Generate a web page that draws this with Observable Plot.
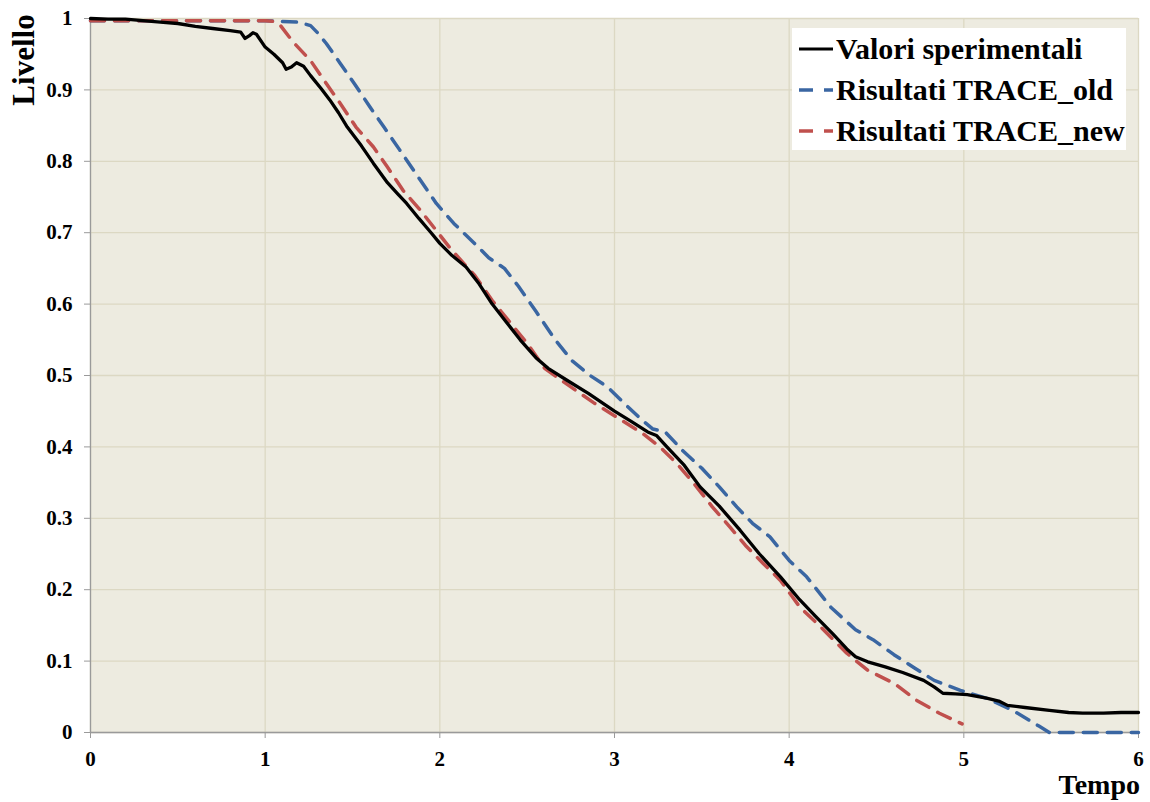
<!DOCTYPE html>
<html>
<head>
<meta charset="utf-8">
<script src="https://cdn.jsdelivr.net/npm/d3@7"></script>
<script src="https://cdn.jsdelivr.net/npm/@observablehq/plot@0.6"></script>
<style>
  html, body { margin: 0; padding: 0; background: #fff; }
  #wrap { position: relative; width: 1150px; height: 802px; font-family: "Liberation Serif", "Times New Roman", serif; font-weight: bold; color: #000; }
  #legend { position: absolute; left: 792px; top: 28px; width: 334px; height: 122px; background: #fff; }
  .row { height: 41px; line-height: 41px; font-size: 30px; white-space: nowrap; display: flex; align-items: center; padding-left: 6px; }
  .row svg { margin-right: 2px; flex: none; }
  #ylab { position: absolute; left: 23px; top: 60px; font-size: 31px; transform: translate(-50%, -50%) rotate(-90deg); white-space: nowrap; line-height: 1; }
  #xlab { position: absolute; right: 10px; top: 772px; font-size: 28px; line-height: 0.9; white-space: nowrap; }
</style>
</head>
<body>
<div id="wrap"></div>
<script>
// Valori sperimentali
const expX = [0, 0.1, 0.2, 0.3, 0.4, 0.5, 0.6, 0.7, 0.8, 0.86, 0.885, 0.91, 0.93, 0.95, 1.0, 1.05, 1.1, 1.12, 1.15, 1.18, 1.22, 1.26, 1.32, 1.37, 1.42, 1.47, 1.55, 1.62, 1.7, 1.76, 1.81, 1.88, 1.95, 2.0, 2.07, 2.15, 2.22, 2.3, 2.38, 2.46, 2.55, 2.62, 2.73, 2.85, 3.0, 3.1, 3.19, 3.24, 3.3, 3.4, 3.49, 3.6, 3.72, 3.83, 3.95, 4.06, 4.15, 4.25, 4.33, 4.38, 4.45, 4.55, 4.65, 4.77, 4.83, 4.88, 4.95, 5.02, 5.13, 5.2, 5.25, 5.35, 5.49, 5.6, 5.68, 5.8, 5.9, 6.0];
const expY = [1.0, 0.999, 0.999, 0.997, 0.995, 0.993, 0.989, 0.986, 0.983, 0.981, 0.972, 0.976, 0.98, 0.978, 0.96, 0.95, 0.938, 0.929, 0.932, 0.938, 0.933, 0.92, 0.902, 0.886, 0.868, 0.848, 0.822, 0.797, 0.77, 0.754, 0.741, 0.72, 0.7, 0.685, 0.668, 0.652, 0.63, 0.6, 0.575, 0.55, 0.525, 0.51, 0.493, 0.475, 0.45, 0.435, 0.421, 0.416, 0.4, 0.374, 0.344, 0.317, 0.283, 0.25, 0.218, 0.186, 0.163, 0.138, 0.117, 0.106, 0.099, 0.092, 0.084, 0.073, 0.064, 0.055, 0.054, 0.053, 0.048, 0.044, 0.038, 0.035, 0.031, 0.028, 0.027, 0.027, 0.028, 0.028];

// Risultati TRACE_old
const oldX = [0, 0.5, 1.0, 1.09, 1.18, 1.22, 1.26, 1.3, 1.35, 1.43, 1.51, 1.6, 1.68, 1.77, 1.89, 1.98, 2.08, 2.19, 2.28, 2.37, 2.45, 2.55, 2.66, 2.76, 2.86, 2.96, 3.06, 3.16, 3.22, 3.29, 3.39, 3.5, 3.6, 3.7, 3.79, 3.89, 4.0, 4.1, 4.24, 4.38, 4.48, 4.6, 4.72, 4.83, 4.98, 5.13, 5.28, 5.43, 5.49, 6.0];
const oldY = [0.997, 0.997, 0.997, 0.996, 0.995, 0.993, 0.99, 0.98, 0.965, 0.937, 0.909, 0.876, 0.848, 0.816, 0.773, 0.741, 0.713, 0.687, 0.665, 0.65, 0.625, 0.59, 0.55, 0.52, 0.5, 0.484, 0.46, 0.437, 0.425, 0.421, 0.395, 0.37, 0.344, 0.316, 0.293, 0.274, 0.241, 0.218, 0.175, 0.144, 0.13, 0.109, 0.09, 0.073, 0.059, 0.048, 0.031, 0.009, 0.0, 0.0];

// Risultati TRACE_new
const newX = [0, 0.5, 1.0, 1.05, 1.085, 1.16, 1.26, 1.35, 1.43, 1.52, 1.62, 1.7, 1.79, 1.89, 1.98, 2.06, 2.2, 2.3, 2.35, 2.5, 2.6, 2.75, 2.88, 3.01, 3.16, 3.26, 3.36, 3.47, 3.56, 3.66, 3.75, 3.85, 3.95, 4.06, 4.18, 4.33, 4.45, 4.6, 4.73, 4.86, 4.99];
const newY = [0.997, 0.997, 0.997, 0.996, 0.991, 0.967, 0.941, 0.909, 0.881, 0.848, 0.82, 0.792, 0.759, 0.731, 0.703, 0.678, 0.64, 0.605, 0.59, 0.545, 0.51, 0.484, 0.462, 0.442, 0.419, 0.4, 0.376, 0.344, 0.316, 0.288, 0.262, 0.237, 0.213, 0.176, 0.148, 0.111, 0.087, 0.069, 0.045, 0.027, 0.012];

const xTicks = [0, 1, 2, 3, 4, 5, 6];
const yTicks = [0, 0.1, 0.2, 0.3, 0.4, 0.5, 0.6, 0.7, 0.8, 0.9, 1];
const seriesNames = ["Valori sperimentali", "Risultati TRACE_old", "Risultati TRACE_new"];
const seriesColors = ["#000000", "#3A66A2", "#C0504D"];

const toRows = (xs, ys) => xs.map((x, i) => ({x, y: ys[i]}));
const expData = toRows(expX, expY);
const oldData = toRows(oldX, oldY);
const newData = toRows(newX, newY);

const fmtY = d => (d === 0 || d === 1) ? String(d) : d.toFixed(1);

const chart = Plot.plot({
  width: 1150,
  height: 802,
  marginLeft: 90,
  marginRight: 12,
  marginTop: 18,
  marginBottom: 70,
  style: {fontFamily: "'Liberation Serif', 'Times New Roman', serif", fontSize: "21px", fontWeight: "bold", color: "#000", background: "transparent", overflow: "visible"},
  x: {domain: [0, 6]},
  y: {domain: [0, 1]},
  marks: [
    Plot.frame({fill: "#EDEBE0", stroke: null}),
    Plot.gridY(yTicks, {stroke: "#DCD8C3", strokeOpacity: 1, strokeWidth: 1.3}),
    Plot.gridX(xTicks, {stroke: "#DCD8C3", strokeOpacity: 1, strokeWidth: 1.3}),
    Plot.ruleX([0], {stroke: "#9A9A9A", strokeWidth: 1.3}),
    Plot.ruleY([0], {stroke: "#9A9A9A", strokeWidth: 1.3}),
    Plot.axisY(yTicks, {tickSize: 6, tickPadding: 12, tickFormat: fmtY, stroke: "#9A9A9A", fill: "#000", label: null, fontFamily: "'Liberation Serif', serif", fontWeight: "bold"}),
    Plot.axisX(xTicks, {tickSize: 6, tickPadding: 13, tickFormat: d => String(d), stroke: "#9A9A9A", fill: "#000", label: null, fontFamily: "'Liberation Serif', serif", fontWeight: "bold"}),
    Plot.line(oldData, {x: "x", y: "y", stroke: seriesColors[1], strokeWidth: 3.5, strokeDasharray: "14,10", strokeLinecap: "round"}),
    Plot.line(newData, {x: "x", y: "y", stroke: seriesColors[2], strokeWidth: 3.5, strokeDasharray: "14,10", strokeLinecap: "round"}),
    Plot.line(expData, {x: "x", y: "y", stroke: seriesColors[0], strokeWidth: 3.3, curve: "linear"})
  ]
});

const wrap = document.getElementById("wrap");
wrap.appendChild(chart);
chart.style.position = "absolute";
chart.style.left = "0px";
chart.style.top = "0px";

// legend
const legend = document.createElement("div");
legend.id = "legend";
seriesNames.forEach((name, i) => {
  const row = document.createElement("div");
  row.className = "row";
  const dash = i === 0 ? "" : `stroke-dasharray="14,11"`;
  row.innerHTML = `<svg width="36" height="10"><line x1="1" y1="5" x2="35" y2="5" stroke="${seriesColors[i]}" stroke-width="${i === 0 ? 3.2 : 3.5}" ${dash}/></svg><span>${name}</span>`;
  legend.appendChild(row);
});
wrap.appendChild(legend);

const ylab = document.createElement("div");
ylab.id = "ylab";
ylab.textContent = "Livello";
wrap.appendChild(ylab);

const xlab = document.createElement("div");
xlab.id = "xlab";
xlab.textContent = "Tempo";
wrap.appendChild(xlab);
</script>
</body>
</html>
